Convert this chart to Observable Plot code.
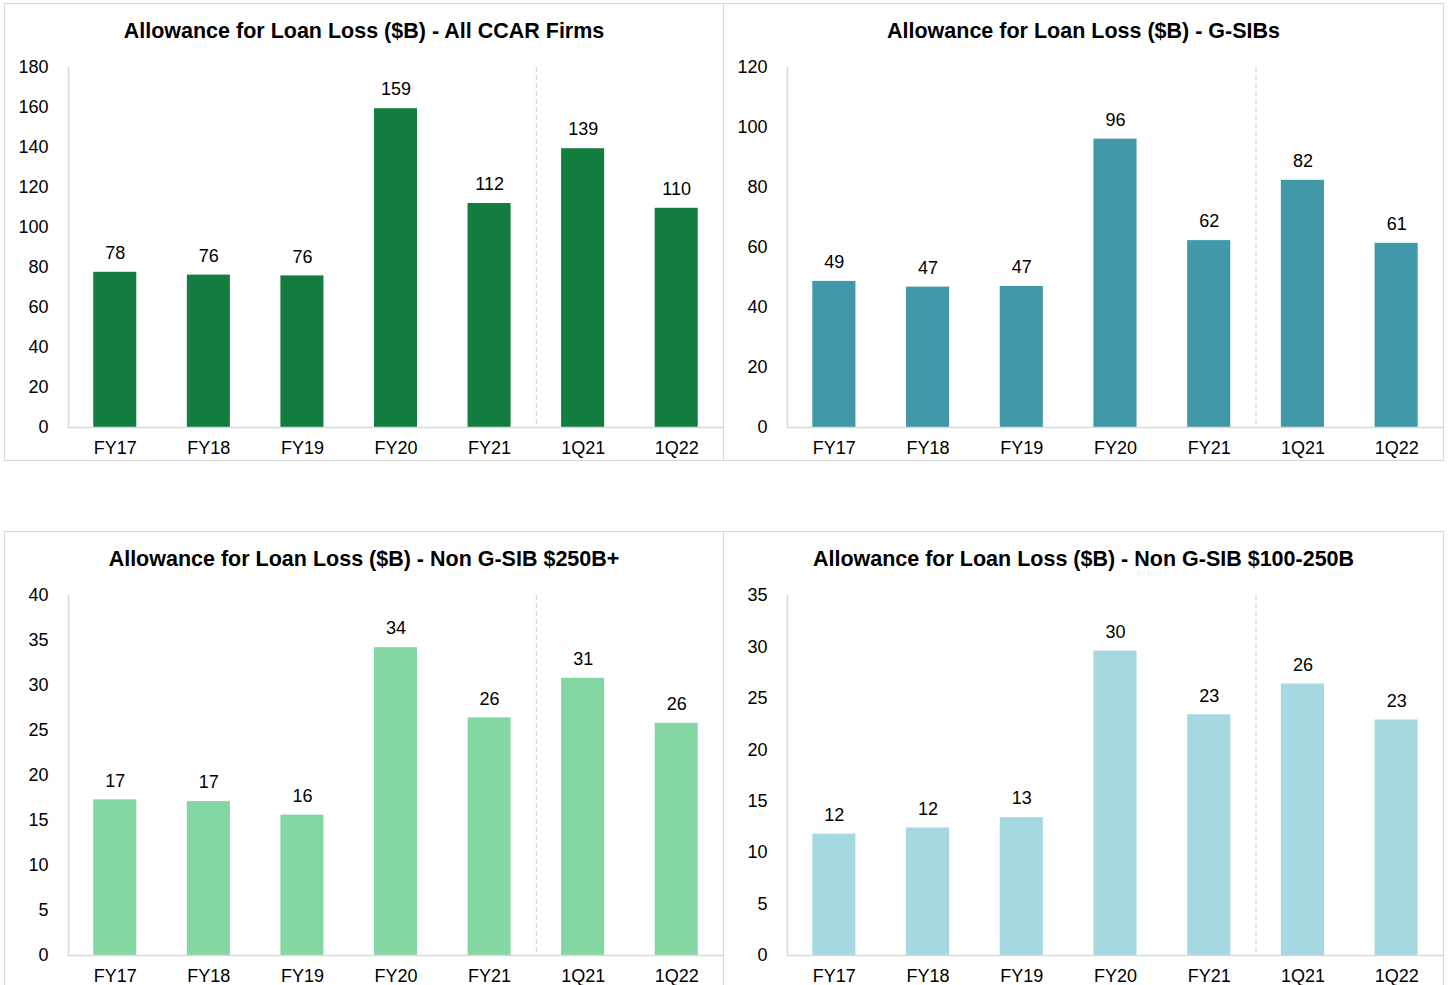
<!DOCTYPE html>
<html><head><meta charset="utf-8">
<script src="https://cdn.jsdelivr.net/npm/d3@7"></script>
<script src="https://cdn.jsdelivr.net/npm/@observablehq/plot@0.6"></script>
<style>
body{margin:0;background:#fff;width:1450px;height:985px;overflow:hidden;position:relative;font-family:"Liberation Sans",Arial,sans-serif;}
.panel{position:absolute;box-sizing:border-box;border:1px solid #d9d9d9;background:#fff;}
.title{position:absolute;left:0;right:0;top:14px;text-align:center;font-weight:bold;font-size:21.5px;line-height:26px;color:#000;white-space:nowrap;}
.chart{position:absolute;left:0;top:49px;}
</style></head><body>
<script>
const categories = ["FY17","FY18","FY19","FY20","FY21","1Q21","1Q22"];
const allCcarValues = [77.6, 76.2, 75.8, 159.4, 112.0, 139.4, 109.6];
const gsibValues = [48.7, 46.8, 47.0, 96.1, 62.3, 82.4, 61.4];
const nonGsib250Values = [17.3, 17.1, 15.6, 34.2, 26.4, 30.8, 25.8];
const nonGsib100Values = [11.8, 12.4, 13.4, 29.6, 23.4, 26.4, 22.9];
const allCcarTicks = [0,20,40,60,80,100,120,140,160,180];
const gsibTicks = [0,20,40,60,80,100,120];
const nonGsib250Ticks = [0,5,10,15,20,25,30,35,40];
const nonGsib100Ticks = [0,5,10,15,20,25,30,35];
const titles = [
  "Allowance for Loan Loss ($B) - All CCAR Firms",
  "Allowance for Loan Loss ($B) - G-SIBs",
  "Allowance for Loan Loss ($B) - Non G-SIB $250B+",
  "Allowance for Loan Loss ($B) - Non G-SIB $100-250B"
];
const colors = ["#137d3f", "#4198a8", "#84d7a3", "#a5d8e1"];
const dividerCategory = "1Q21";

const panels = [
  {title: titles[0], values: allCcarValues, ticks: allCcarTicks, color: colors[0], left: 4, top: 3, width: 720},
  {title: titles[1], values: gsibValues, ticks: gsibTicks, color: colors[1], left: 723, top: 3, width: 721},
  {title: titles[2], values: nonGsib250Values, ticks: nonGsib250Ticks, color: colors[2], left: 4, top: 530.5, width: 720},
  {title: titles[3], values: nonGsib100Values, ticks: nonGsib100Ticks, color: colors[3], left: 723, top: 530.5, width: 721}
];

const font = '"Liberation Sans", Arial, sans-serif';

for (const p of panels) {
  const div = document.createElement("div");
  div.className = "panel";
  div.style.left = p.left + "px";
  div.style.top = p.top + "px";
  div.style.width = p.width + "px";
  div.style.height = "458px";
  const t = document.createElement("div");
  t.className = "title";
  t.textContent = p.title;
  div.appendChild(t);

  const data = categories.map((c, i) => ({cat: c, value: p.values[i]}));
  const w = p.width - 2;
  const marginLeft = 63, marginRight = 0;
  const step = (w - marginLeft - marginRight) / categories.length;
  const chart = Plot.plot({
    width: w,
    height: 404,
    marginLeft, marginRight,
    marginTop: 14,
    marginBottom: 30,
    style: {fontSize: "18px", fontFamily: font, color: "#000", background: "transparent", overflow: "visible"},
    x: {domain: categories, paddingInner: 0.54, paddingOuter: 0.27, round: false, label: null},
    y: {domain: [0, d3.max(p.ticks)], label: null},
    marks: [
      Plot.ruleX([dividerCategory], {stroke: "#cccccc", strokeDasharray: "5,3", dx: -step / 2}),
      Plot.barY(data, {x: "cat", y: "value", fill: p.color}),
      Plot.ruleY([0], {stroke: "#d9d9d9", strokeWidth: 1.5}),
      Plot.frame({anchor: "left", stroke: "#d9d9d9", strokeWidth: 1.5}),
      Plot.text(data, {x: "cat", y: "value", text: d => d3.format(".0f")(d.value), dy: -19, fontSize: 18, fill: "#000"}),
      Plot.axisY({ticks: p.ticks, tickSize: 0, tickPadding: 20, fontSize: 18, label: null}),
      Plot.axisX({tickSize: 0, tickPadding: 14, fontSize: 18, label: null})
    ]
  });
  chart.classList.add("chart");
  div.appendChild(chart);
  document.body.appendChild(div);
}
</script>
</body></html>
